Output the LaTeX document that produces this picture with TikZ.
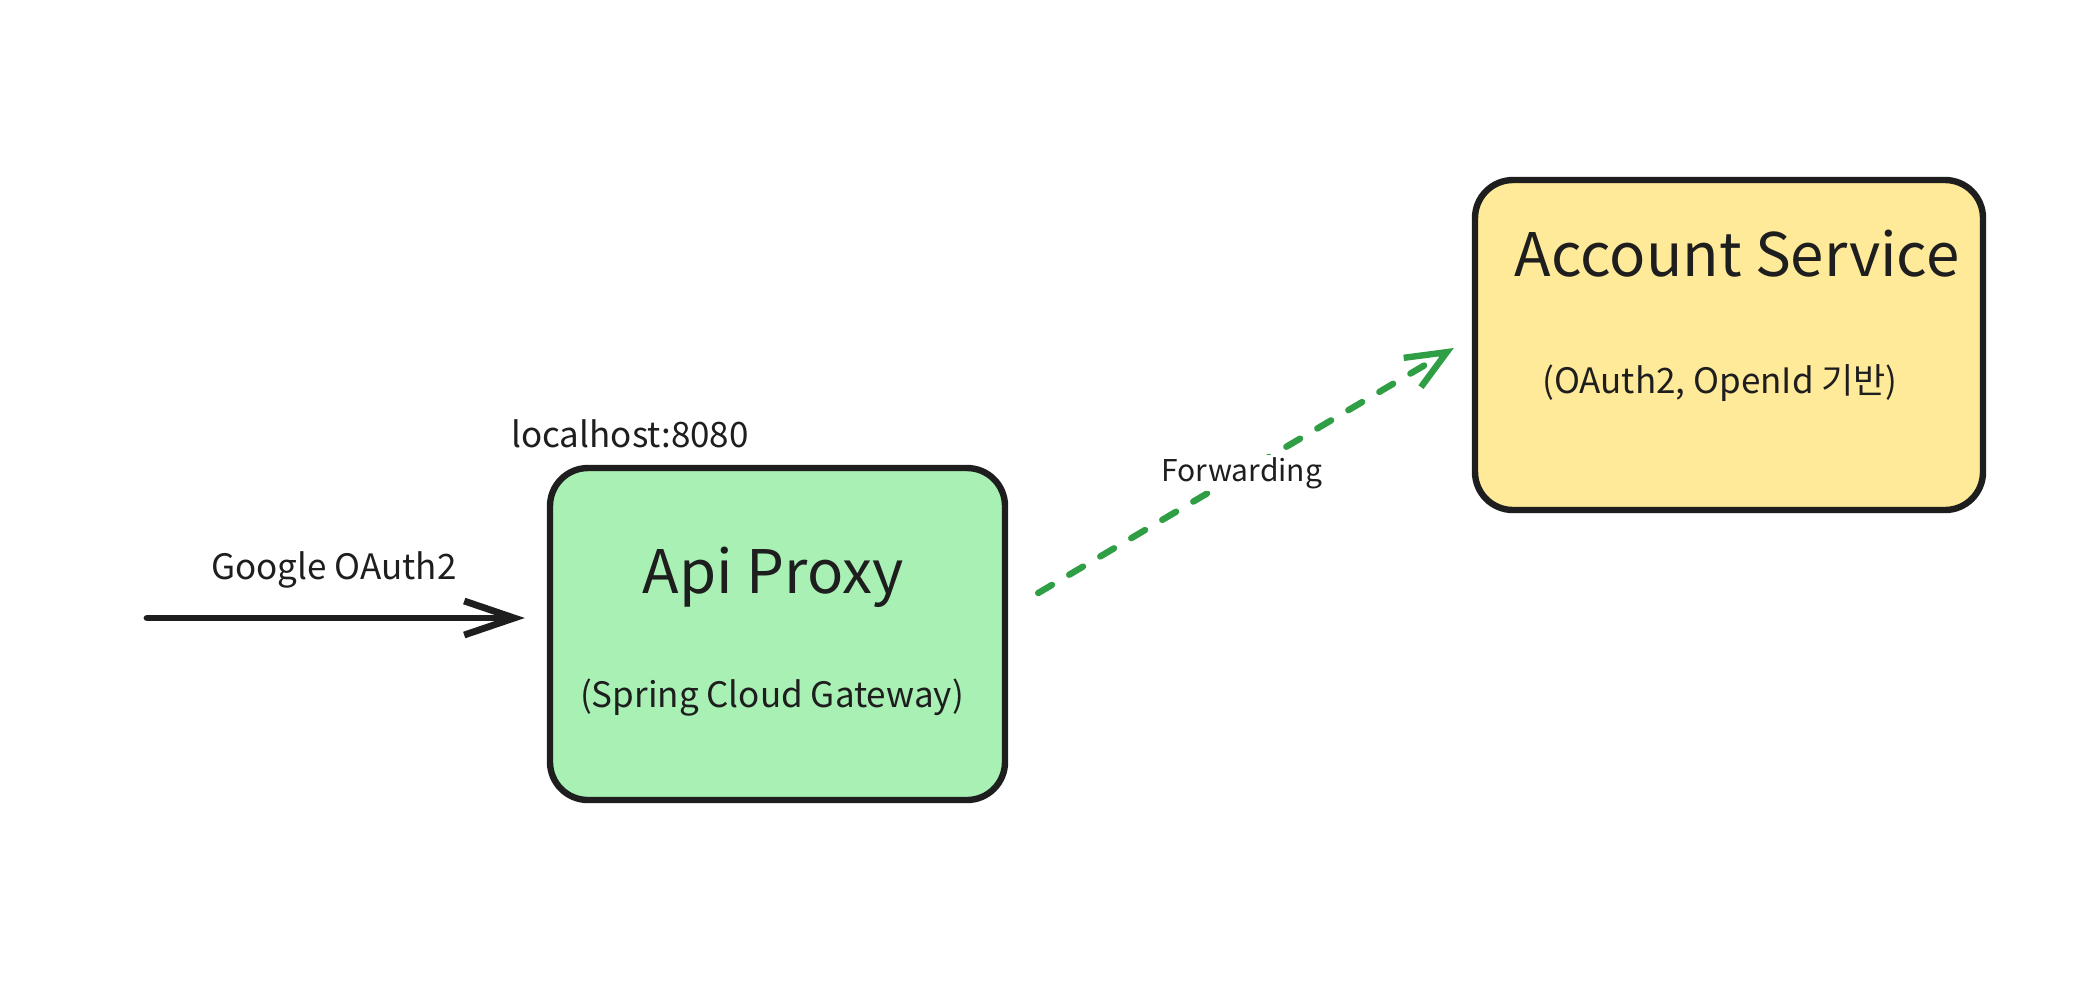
\documentclass[tikz,border=0pt]{standalone}
\usepackage{fontspec}
\setmainfont{Noto Sans CJK KR}
\usetikzlibrary{arrows.meta,positioning}
\definecolor{inkblack}{HTML}{1E1E1E}
\definecolor{proxygreen}{HTML}{A8F0B4}
\definecolor{serviceyellow}{HTML}{FFEA99}
\definecolor{fwdgreen}{HTML}{2F9E44}

\begin{document}
\begin{tikzpicture}[x=0.5pt, y=-0.5pt, thick,
                    box/.style={draw=inkblack, line width=3.2pt, rounded corners=19pt},
                    title/.style={font=\fontsize{30}{34}\selectfont, text=inkblack},
                    small/.style={font=\fontsize{17.5}{20}\selectfont, text=inkblack}]
  \useasboundingbox (0,0) rectangle (2092,982);

  % boxes
  \node[box, fill=proxygreen, minimum width=227.5pt, minimum height=166pt] (proxy) at (777.5,634) {};
  \node[box, fill=serviceyellow, minimum width=254pt, minimum height=165pt] (account) at (1729,345) {};

  % texts
  \node[title] (proxytitle) at (773,577) {Api Proxy};
  \node[small] (proxysub) at (772,698) {(Spring Cloud Gateway)};
  \node[title] (accounttitle) at (1737,254) {Account Service};
  \node[small] (accountsub) at (1720,383) {(OAuth2, OpenId 기반)};
  \node[small] (hostlabel) at (630,434) {localhost:8080};
  \node[small] (googlelabel) at (334,570) {Google OAuth2};

  % connectors
  \coordinate (client) at (147,618);
  \draw[inkblack, line width=3.4pt, line cap=round,
        -{Straight Barb[length=25pt,width=17pt]}]
    (client) -- ([xshift=-11pt,yshift=8pt]proxy.west);
  \draw[fwdgreen, line width=3.2pt, line cap=round, dash pattern=on 8pt off 10pt,
        -{Straight Barb[length=20pt,width=17pt]}]
    ([xshift=15pt,yshift=20.5pt]proxy.east) --
      node[small, font=\fontsize{15}{18}\selectfont, fill=white, inner sep=1pt, pos=0.49] (fwdlabel) {Forwarding}
    ([xshift=-9pt,yshift=-1.5pt]account.west);
\end{tikzpicture}
\end{document}
